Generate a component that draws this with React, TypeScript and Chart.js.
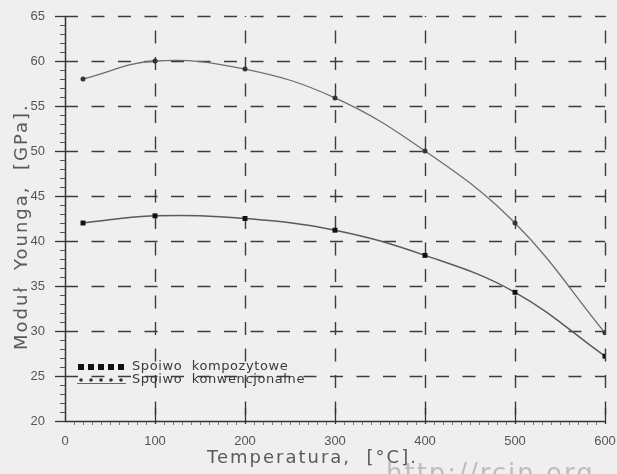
import React, { useEffect, useRef } from "react";
import { Chart, registerables } from "chart.js";

Chart.register(...registerables);

const temperatures = [20, 100, 200, 300, 400, 500, 600];
const kompozytowe = [42.0, 42.8, 42.5, 41.2, 38.4, 34.3, 27.2];
const konwencjonalne = [58.0, 60.0, 59.1, 55.9, 50.0, 42.0, 29.8];
const seriesNames = ["Spoiwo  kompozytowe", "Spoiwo  konwencjonalne"];
const xTickValues = [0, 100, 200, 300, 400, 500, 600];
const yTickValues = [20, 25, 30, 35, 40, 45, 50, 55, 60, 65];
const xTitle = "Temperatura,  [°C].";
const yTitle = "Moduł  Younga,  [GPa].";
const watermark = "http://rcin.org";

const BG = "#efefef";
const AXIS = "#333333";
const GRID = "#3c3c3c";

const decorPlugin = {
  id: "decor",
  beforeDraw(chart: any) {
    const { ctx, width, height } = chart;
    ctx.save();
    ctx.fillStyle = BG;
    ctx.fillRect(0, 0, width, height);
    ctx.restore();
  },
  beforeDatasetsDraw(chart: any) {
    const { ctx, chartArea } = chart;
    const xs = chart.scales.x;
    const ys = chart.scales.y;
    const { left, right, top, bottom } = chartArea;
    ctx.save();
    // dashed grid
    ctx.strokeStyle = GRID;
    ctx.lineWidth = 1.4;
    ctx.setLineDash([13, 13.5]);
    for (const v of yTickValues) {
      if (v === yTickValues[0]) continue;
      const y = Math.round(ys.getPixelForValue(v)) + 0.5;
      ctx.beginPath();
      ctx.moveTo(left, y);
      ctx.lineTo(right, y);
      ctx.stroke();
    }
    ctx.lineDashOffset = 12;
    for (const v of xTickValues) {
      if (v === xTickValues[0]) continue;
      const x = Math.round(xs.getPixelForValue(v)) + 0.5;
      ctx.beginPath();
      ctx.moveTo(x, top);
      ctx.lineTo(x, bottom);
      ctx.stroke();
    }
    ctx.setLineDash([]);
    ctx.lineDashOffset = 0;
    // axes
    ctx.strokeStyle = AXIS;
    ctx.lineWidth = 1.5;
    ctx.beginPath();
    ctx.moveTo(left + 0.5, top);
    ctx.lineTo(left + 0.5, bottom + 0.5);
    ctx.lineTo(right, bottom + 0.5);
    ctx.stroke();
    // y major ticks
    ctx.lineWidth = 1.3;
    for (const v of yTickValues) {
      const y = Math.round(ys.getPixelForValue(v)) + 0.5;
      ctx.beginPath();
      ctx.moveTo(left - 10, y);
      ctx.lineTo(left, y);
      ctx.stroke();
    }
    // y minor ticks
    ctx.lineWidth = 1;
    ctx.strokeStyle = "#555";
    for (let v = 20; v <= 65; v += 1) {
      if (v % 5 === 0) continue;
      const y = Math.round(ys.getPixelForValue(v)) + 0.5;
      ctx.beginPath();
      ctx.moveTo(left - 5, y);
      ctx.lineTo(left, y);
      ctx.stroke();
    }
    // x major ticks (inside)
    ctx.strokeStyle = AXIS;
    ctx.lineWidth = 1.3;
    for (const v of xTickValues) {
      if (v === 0) continue;
      const x = Math.round(xs.getPixelForValue(v)) + 0.5;
      ctx.beginPath();
      ctx.moveTo(x, bottom - 13);
      ctx.lineTo(x, bottom + 3);
      ctx.stroke();
    }
    // x minor ticks (below)
    ctx.strokeStyle = "#777";
    ctx.lineWidth = 1;
    for (let v = 0; v <= 600; v += 10) {
      if (v % 100 === 0) continue;
      const x = Math.round(xs.getPixelForValue(v)) + 0.5;
      ctx.beginPath();
      ctx.moveTo(x, bottom + 1);
      ctx.lineTo(x, bottom + 4);
      ctx.stroke();
    }
    ctx.restore();
  },
  afterDraw(chart: any) {
    const { ctx } = chart;
    ctx.save();
    // legend
    const sx = [81, 91, 101, 111, 121];
    ctx.fillStyle = "#111";
    for (const x of sx) ctx.fillRect(x - 3, 364, 6, 6);
    ctx.fillStyle = "#333";
    for (const x of sx) {
      ctx.beginPath();
      ctx.arc(x, 380, 1.8, 0, Math.PI * 2);
      ctx.fill();
    }
    ctx.strokeStyle = "#666";
    ctx.lineWidth = 1.2;
    ctx.beginPath();
    ctx.moveTo(77, 383.5);
    ctx.lineTo(126, 383.5);
    ctx.stroke();
    ctx.fillStyle = "#3a3a3a";
    ctx.font = "13px 'DejaVu Sans'";
    (ctx as any).letterSpacing = "0.6px";
    ctx.textAlign = "left";
    ctx.textBaseline = "middle";
    ctx.fillText(seriesNames[0], 132, 367);
    ctx.fillText(seriesNames[1], 132, 380);
    // axis titles
    ctx.fillStyle = "#5a5a5a";
    ctx.font = "18px 'DejaVu Sans'";
    (ctx as any).letterSpacing = "2px";
    ctx.textAlign = "left";
    ctx.textBaseline = "alphabetic";
    ctx.fillText(xTitle, 207, 463);
    ctx.save();
    ctx.translate(27, 350);
    ctx.rotate(-Math.PI / 2);
    ctx.fillText(yTitle, 0, 0);
    ctx.restore();
    // watermark
    ctx.fillStyle = "#bdbdbd";
    ctx.font = "26px 'DejaVu Sans'";
    (ctx as any).letterSpacing = "2px";
    ctx.fillText(watermark, 386, 482);
    ctx.restore();
  },
};

export default function App() {
  const ref = useRef<HTMLCanvasElement | null>(null);
  useEffect(() => {
    document.body.style.margin = "0";
    document.body.style.background = BG;
    const canvas = ref.current!;
    const chart = new Chart(canvas, {
      type: "line",
      data: {
        datasets: [
          {
            label: seriesNames[0],
            data: temperatures.map((t, i) => ({ x: t, y: kompozytowe[i] })),
            borderColor: "#5a5a5a",
            borderWidth: 1.5,
            tension: 0.4,
            pointStyle: "rect",
            pointRadius: 3.5,
            pointBackgroundColor: "#111",
            pointBorderColor: "#111",
            pointBorderWidth: 0,
          },
          {
            label: seriesNames[1],
            data: temperatures.map((t, i) => ({ x: t, y: konwencjonalne[i] })),
            borderColor: "#6e6e6e",
            borderWidth: 1.3,
            tension: 0.4,
            pointStyle: "circle",
            pointRadius: 2.5,
            pointBackgroundColor: "#333",
            pointBorderColor: "#333",
            pointBorderWidth: 0,
          },
        ],
      },
      options: {
        animation: false,
        responsive: false,
        devicePixelRatio: 1,
        layout: { padding: { top: 16, right: 12, left: 0, bottom: 0 } },
        plugins: { legend: { display: false }, tooltip: { enabled: false } },
        scales: {
          x: {
            type: "linear",
            min: 0,
            max: 600,
            afterFit: (s: any) => {
              s.height = 53;
              s.paddingLeft = 0;
              s.paddingRight = 0;
            },
            afterBuildTicks: (s: any) => {
              s.ticks = xTickValues.map((v) => ({ value: v }));
            },
            grid: { display: false },
            border: { display: false },
            ticks: {
              padding: 5,
              color: "#555",
              font: { family: "'Liberation Sans'", size: 13 },
            },
          },
          y: {
            type: "linear",
            min: 20,
            max: 65,
            afterFit: (s: any) => {
              s.width = 65;
              s.paddingTop = 0;
              s.paddingBottom = 0;
            },
            afterBuildTicks: (s: any) => {
              s.ticks = yTickValues.map((v) => ({ value: v }));
            },
            grid: { display: false },
            border: { display: false },
            ticks: {
              padding: 12,
              color: "#555",
              font: { family: "'Liberation Sans'", size: 13 },
            },
          },
        },
      },
      plugins: [decorPlugin],
    } as any);
    return () => chart.destroy();
  }, []);
  return (
    <div style={{ position: "fixed", left: 0, top: 0, width: 617, height: 474, background: BG }}>
      <canvas ref={ref} width={617} height={474} style={{ display: "block", width: 617, height: 474 }} />
    </div>
  );
}
